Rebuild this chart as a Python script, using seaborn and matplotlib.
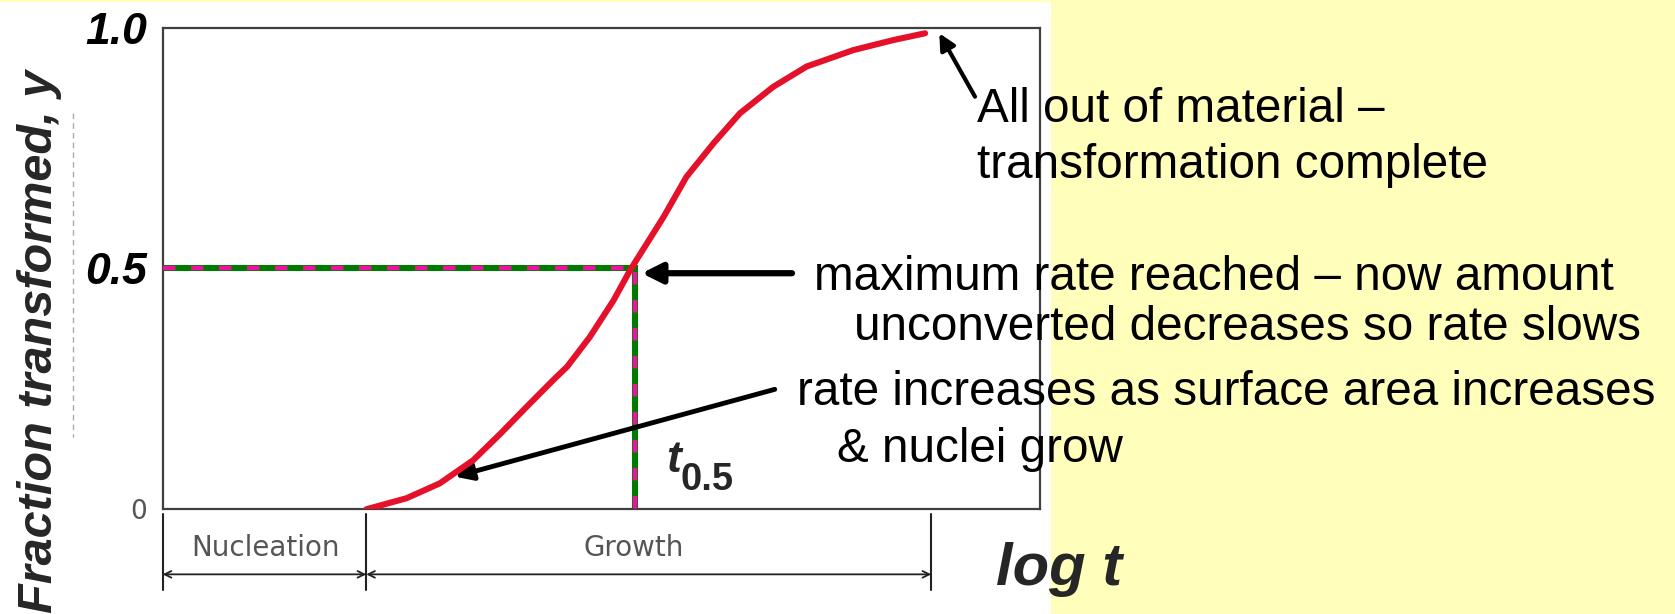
import seaborn as sns
import matplotlib.pyplot as plt
from matplotlib.lines import Line2D
from matplotlib.patches import Rectangle

# sigmoidal transformation curve (x = log t, axis units 0..1)
log_t = [0.232, 0.278, 0.316, 0.354, 0.385, 0.415, 0.445, 0.461, 0.487, 0.514,
         0.533, 0.571, 0.597, 0.628, 0.658, 0.696, 0.734, 0.787, 0.833, 0.869]
frac = [0.0, 0.023, 0.054, 0.102, 0.157, 0.213, 0.268, 0.296, 0.358, 0.434,
        0.497, 0.607, 0.690, 0.760, 0.822, 0.877, 0.919, 0.953, 0.974, 0.988]

y_ticks = [0, 0.5, 1.0]
y_tick_labels = ['0', '0.5', '1.0']

phases = ['Nucleation', 'Growth']
phase_edges = [0.0, 0.232, 0.876]

t_half = 0.538
y_half = 0.5

W, H = 1675, 614


def px(x, y):
    # pixel position (from top left) -> figure fraction
    return x / W, 1 - y / H


sns.set_theme(style='white')
plt.rcParams['font.family'] = ['Liberation Sans', 'DejaVu Sans']

fig = plt.figure(figsize=(W / 100, H / 100), dpi=100, facecolor='#FFFFBB')
fig.patches.append(Rectangle((0, 0), 1051 / W, 1 - 2 / H, transform=fig.transFigure,
                             facecolor='white', edgecolor='none', zorder=-1))

ax = fig.add_axes([162.7 / W, 1 - 509.3 / H, 877.3 / W, 481.8 / H])
ax.set_facecolor('none')

# guide lines at y = 0.5 (green with magenta dashes on top)
guide_x = [0, t_half, t_half]
guide_y = [y_half, y_half, 0]
ax.plot(guide_x, guide_y, color='#007A00', lw=4.4, solid_joinstyle='miter', zorder=2)
dash = ax.plot(guide_x, guide_y, color='#EE12A0', lw=3.2, zorder=3)[0]
dash.set_dashes([2.8, 3.5])
dash.set_dash_capstyle('butt')

sns.lineplot(x=log_t, y=frac, ax=ax, color='#E5102A', lw=4.4, sort=False, zorder=4)
ax.lines[-1].set_solid_joinstyle('round')

ax.set_xlim(0, 1)
ax.set_ylim(0, 1)
ax.set_xlabel('')
ax.set_ylabel('')
ax.set_xticks([])
ax.set_yticks(y_ticks)
ax.set_yticklabels(y_tick_labels)
ax.tick_params(axis='y', length=0, pad=11)
for lab in ax.get_yticklabels():
    if lab.get_text() == '0':
        lab.set_family('DejaVu Sans')
        lab.set_fontsize(19)
        lab.set_color('#555555')
    else:
        lab.set_fontsize(32)
        lab.set_fontweight('bold')
        lab.set_fontstyle('italic')
        lab.set_color('black')
for s in ax.spines.values():
    s.set_visible(True)
    s.set_color('#404040')
    s.set_linewidth(1.6)

# nucleation / growth bracket under the axis
for edge in phase_edges:
    ax.plot([edge, edge], [-0.0098, -0.1675], color='#222222', lw=1.5, clip_on=False)
label_x = [0.117, 0.537]
for i, name in enumerate(phases):
    ax.annotate('', xy=(phase_edges[i], -0.135), xytext=(phase_edges[i + 1], -0.135),
                arrowprops=dict(arrowstyle='<->', color='#222222', lw=1.3,
                                shrinkA=0, shrinkB=0, mutation_scale=12),
                annotation_clip=False)
    ax.text(label_x[i], -0.0805, name, ha='center', va='center', color='#555555',
            family='DejaVu Sans', fontsize=20, clip_on=False)

# annotation arrows
ax.annotate('', xy=(0.8852, 0.988), xytext=(0.9259, 0.8564),
            arrowprops=dict(arrowstyle='-|>', color='black', lw=3,
                            shrinkA=0, shrinkB=0, mutation_scale=24),
            annotation_clip=False)
ax.annotate('', xy=(0.546, 0.49), xytext=(0.7173, 0.49),
            arrowprops=dict(arrowstyle='-|>', color='black', lw=4.5,
                            shrinkA=0, shrinkB=0, mutation_scale=30),
            annotation_clip=False)
ax.annotate('', xy=(0.3332, 0.0677), xytext=(0.6977, 0.249),
            arrowprops=dict(arrowstyle='-|>', color='black', lw=3.5,
                            shrinkA=0, shrinkB=0, mutation_scale=26),
            annotation_clip=False)

# notes
note = dict(fontsize=34.3, color='black', ha='left', va='baseline')
fig.text(*px(977, 122), 'All out of material \u2013', **note)
fig.text(*px(977, 178), 'transformation complete', **note)
fig.text(*px(814, 290), 'maximum rate reached \u2013 now amount', **note)
fig.text(*px(854, 340), 'unconverted decreases so rate slows', **note)
fig.text(*px(797, 405), 'rate increases as surface area increases', **note)
fig.text(*px(837, 462), '& nuclei grow', **note)

fig.text(*px(666, 472), 't', fontsize=32, fontweight='bold', fontstyle='italic',
         ha='left', va='baseline')
fig.text(*px(680, 490), '0.5', fontsize=27.5, fontweight='bold', ha='left', va='baseline')

fig.text(*px(996, 585), 'log t', fontsize=43, fontweight='bold', fontstyle='italic',
         ha='left', va='baseline')

fig.text(*px(52, 613), 'Fraction transformed, y', fontsize=35, fontweight='bold',
         fontstyle='italic', rotation=90, rotation_mode='anchor',
         ha='left', va='baseline')

# faint dashed remnant beside the y label
fig.lines.append(Line2D([73 / W, 73 / W], [1 - 113 / H, 1 - 437 / H],
                        transform=fig.transFigure, color='#AAAAAA', lw=1,
                        linestyle=(0, (4, 3))))

fig.savefig('out.png', dpi=100, facecolor=fig.get_facecolor())
